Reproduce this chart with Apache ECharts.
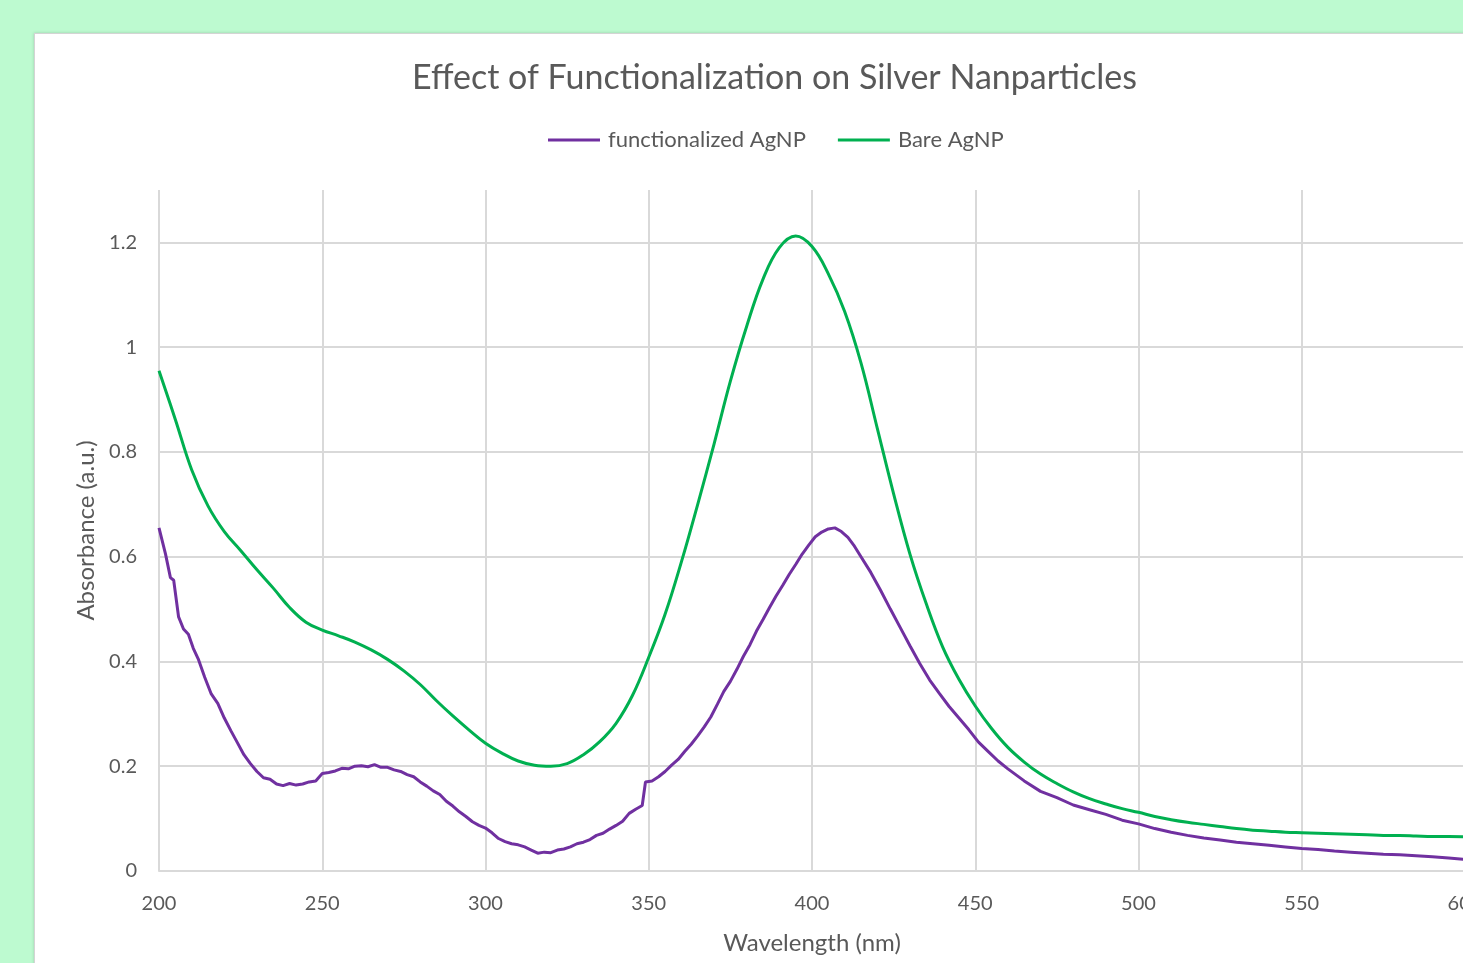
<!DOCTYPE html>
<html>
<head>
<meta charset="utf-8">
<title>Effect of Functionalization on Silver Nanparticles</title>
<script src="https://cdn.jsdelivr.net/npm/echarts@6/dist/echarts.min.js"></script>
<style>
  html, body { margin: 0; padding: 0; width: 1463px; height: 963px; overflow: hidden; background: #bdfad0; }
  #panel { position: absolute; left: 34px; top: 33px; width: 1460px; height: 960px; background: #fff;
           border: 1px solid #d4d4d4; box-shadow: 0 0 3px rgba(0,0,0,0.18); }
  #chart { position: absolute; left: 0; top: 0; width: 1463px; height: 963px; }
</style>
</head>
<body>
<div id="panel"></div>
<div id="chart"></div>
<script>
// wavelength (nm) / absorbance
var bareNm = [200, 205, 210, 215, 220, 225, 230, 235, 240, 245, 250, 255, 260, 265, 270, 275, 280, 285, 290, 295,
  300, 305, 310, 315, 320, 325, 330, 335, 340, 345, 350, 355, 360, 365, 370, 375, 380, 385, 390, 395,
  400, 405, 410, 415, 420, 425, 430, 435, 440, 445, 450, 455, 460, 465, 470, 475, 480, 485, 490, 495,
  500, 505, 510, 515, 520, 525, 530, 535, 540, 545, 550, 555, 560, 565, 570, 575, 580, 585, 590, 595, 600]
var bareAbs = [0.955, 0.862, 0.766, 0.697, 0.648, 0.612, 0.575, 0.540, 0.503, 0.475, 0.460, 0.449, 0.437, 0.422, 0.404, 0.382, 0.356, 0.325, 0.296, 0.269,
  0.244, 0.225, 0.210, 0.202, 0.200, 0.205, 0.222, 0.247, 0.282, 0.335, 0.408, 0.490, 0.590, 0.700, 0.815, 0.935, 1.040, 1.130, 1.190, 1.212,
  1.192, 1.140, 1.068, 0.970, 0.845, 0.720, 0.605, 0.510, 0.428, 0.366, 0.315, 0.272, 0.236, 0.208, 0.185, 0.167, 0.151, 0.138, 0.128, 0.119,
  0.112, 0.104, 0.098, 0.093, 0.089, 0.085, 0.081, 0.078, 0.076, 0.074, 0.073, 0.072, 0.071, 0.070, 0.069, 0.068, 0.068, 0.067, 0.066, 0.066, 0.065]

var funcNm = [200, 202, 203.5, 204.5, 206, 207.5, 209, 210.5, 212, 214, 216, 218, 220, 222, 224, 226, 228, 230, 232, 234,
  236, 238, 240, 242, 244, 246, 248, 250, 252, 254, 256, 258, 260, 262, 264, 266, 268, 270, 272, 274,
  276, 278, 280, 282, 284, 286, 288, 290, 292, 294, 296, 298, 300, 302, 304, 306, 308, 310, 312, 314,
  316, 318, 320, 322, 324, 326, 328, 330, 332, 334, 336, 338, 340, 342, 344, 346, 348, 349, 351, 353,
  355, 357, 359, 361, 363, 365, 367, 369, 371, 373, 375, 377, 379, 381, 383, 385, 387, 389, 391, 393,
  395, 397, 399, 401, 403, 405, 407, 409, 411, 413, 415, 418, 421, 424, 427, 430, 433, 436, 439, 442,
  445, 448, 451, 454, 457, 460, 465, 470, 475, 480, 485, 490, 495, 500, 505, 510, 515, 520, 525, 530,
  535, 540, 545, 550, 555, 560, 565, 570, 575, 580, 585, 590, 595, 600]
var funcAbs = [0.655, 0.605, 0.560, 0.555, 0.485, 0.462, 0.452, 0.425, 0.405, 0.370, 0.338, 0.320, 0.292, 0.268, 0.245, 0.222, 0.205, 0.190, 0.178, 0.175,
  0.166, 0.163, 0.167, 0.164, 0.166, 0.170, 0.172, 0.186, 0.188, 0.191, 0.196, 0.195, 0.200, 0.201, 0.199, 0.203, 0.198, 0.198, 0.193, 0.190,
  0.184, 0.180, 0.170, 0.162, 0.153, 0.146, 0.133, 0.124, 0.113, 0.104, 0.094, 0.087, 0.082, 0.073, 0.062, 0.056, 0.052, 0.050, 0.046, 0.040,
  0.034, 0.036, 0.035, 0.040, 0.042, 0.046, 0.052, 0.055, 0.060, 0.068, 0.072, 0.080, 0.087, 0.095, 0.110, 0.118, 0.125, 0.170, 0.172, 0.180,
  0.190, 0.202, 0.213, 0.228, 0.242, 0.258, 0.275, 0.294, 0.318, 0.343, 0.362, 0.385, 0.410, 0.432, 0.458, 0.480, 0.503, 0.525, 0.545, 0.566,
  0.585, 0.605, 0.622, 0.638, 0.647, 0.653, 0.655, 0.648, 0.637, 0.620, 0.600, 0.570, 0.536, 0.500, 0.465, 0.430, 0.396, 0.365, 0.339, 0.314,
  0.292, 0.270, 0.246, 0.228, 0.210, 0.195, 0.172, 0.152, 0.140, 0.126, 0.117, 0.108, 0.097, 0.090, 0.081, 0.074, 0.068, 0.063, 0.059, 0.055,
  0.052, 0.049, 0.046, 0.043, 0.041, 0.038, 0.036, 0.034, 0.032, 0.031, 0.029, 0.027, 0.025, 0.022]

const zip = (xs, ys) => xs.map((x, i) => [x, ys[i]])

const FONT = 'Lato, "Open Sans", sans-serif'
const GREY = '#595959'
const GRID = '#d9d9d9'

var chart = echarts.init(document.getElementById('chart'), null, { renderer: 'canvas' })

chart.setOption({
  backgroundColor: 'transparent',
  animation: false,
  textStyle: { fontFamily: FONT },
  // title and legend sit centred on the (wider) white chart area, not the window
  title: {
    text: 'Effect of Functionalization on Silver Nanparticles',
    left: 412,
    top: 61,
    padding: 0,
    textStyle: { fontFamily: FONT, fontSize: 34, fontWeight: 'normal', color: GREY }
  },
  legend: {
    top: 129,
    left: 548,
    padding: 0,
    itemWidth: 52,
    itemHeight: 3,
    itemGap: 32,
    icon: 'rect',
    textStyle: { fontFamily: FONT, fontSize: 22, color: GREY, padding: [0, 0, 0, 3] },
    data: ['functionalized AgNP', 'Bare AgNP']
  },
  grid: { left: 159, top: 190, width: 1306, height: 681, outerBoundsMode: 'none', containLabel: false },
  xAxis: {
    type: 'value',
    min: 200,
    max: 600,
    interval: 50,
    name: 'Wavelength (nm)',
    nameLocation: 'middle',
    nameGap: 60,
    nameTextStyle: { fontFamily: FONT, fontSize: 24, color: GREY },
    axisLine: { show: true, lineStyle: { color: GRID, width: 2 } },
    axisTick: { show: false },
    axisLabel: { fontFamily: FONT, fontSize: 20, color: GREY, margin: 23 },
    splitLine: { show: true, lineStyle: { color: GRID, width: 2 } }
  },
  yAxis: {
    type: 'value',
    min: 0,
    max: 1.3,
    interval: 0.2,
    name: 'Absorbance (a.u.)',
    nameLocation: 'middle',
    nameGap: 60,
    nameTextStyle: { fontFamily: FONT, fontSize: 24, color: GREY },
    axisLine: { show: false },
    axisTick: { show: false },
    axisLabel: { fontFamily: FONT, fontSize: 20, color: GREY, margin: 22, showMaxLabel: false,
      formatter: v => String(Math.round(v * 10) / 10) },
    splitLine: { show: true, showMaxLine: false, lineStyle: { color: GRID, width: 2 } }
  },
  series: [
    {
      name: 'functionalized AgNP',
      type: 'line',
      showSymbol: false,
      color: '#7030a0',
      lineStyle: { width: 3, color: '#7030a0' },
      data: zip(funcNm, funcAbs)
    },
    {
      name: 'Bare AgNP',
      type: 'line',
      showSymbol: false,
      smooth: 0.4,
      color: '#00b050',
      lineStyle: { width: 3, color: '#00b050' },
      data: zip(bareNm, bareAbs)
    }
  ]
})
</script>
</body>
</html>
